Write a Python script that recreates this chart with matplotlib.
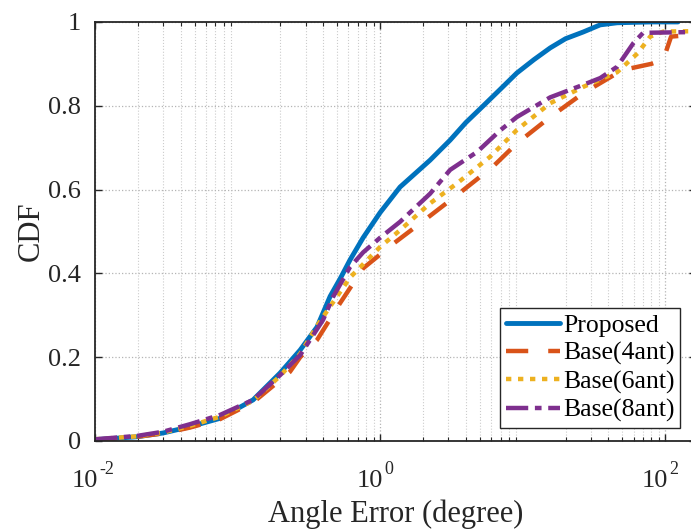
#CDF of angle error, proposed vs baseline

import matplotlib
matplotlib.use('Agg')
import matplotlib.pyplot as plt
import matplotlib.transforms as mtrans
import numpy as ny
from matplotlib.ticker import LogLocator, NullFormatter, FixedLocator

plt.rcParams['font.family'] = ['Liberation Serif', 'DejaVu Serif']

#values
x_prop = [0.01, 0.0197, 0.03, 0.0464, 0.0753, 0.1285, 0.1986, 0.275, 0.361, 0.446, 0.53, 0.615, 0.76, 1.0,
          1.38, 2.24, 3.1, 4.0, 5.3, 7.0, 9.1, 12, 15.6, 20, 26.6, 35, 46, 60, 80, 123]
y_prop = [0.003, 0.01, 0.019, 0.034, 0.054, 0.098, 0.162, 0.217, 0.272, 0.345, 0.39, 0.432, 0.485, 0.545,
          0.606, 0.67, 0.718, 0.76, 0.80, 0.84, 0.878, 0.91, 0.938, 0.96, 0.976, 0.993, 0.998, 0.999, 1.0, 1.0]

x_b4 = [0.01, 0.0197, 0.03, 0.0464, 0.0753, 0.1285, 0.1986, 0.233, 0.275, 0.361, 0.524, 0.76, 1.0, 1.23,
        2.14, 3.47, 6.2, 9.1, 15.6, 26.6, 50, 80, 97, 110, 165]
y_b4 = [0.003, 0.01, 0.018, 0.032, 0.052, 0.092, 0.145, 0.165, 0.2, 0.241, 0.329, 0.412, 0.445, 0.47,
        0.532, 0.587, 0.655, 0.71, 0.773, 0.83, 0.885, 0.9, 0.91, 0.965, 0.97]

x_b6 = [0.01, 0.0197, 0.03, 0.0464, 0.0753, 0.1285, 0.1986, 0.275, 0.361, 0.615, 1.0, 1.38, 2.24, 3.47,
        5.9, 9.1, 15.6, 26.6, 46, 64, 78.5, 97, 165]
y_b6 = [0.004, 0.011, 0.02, 0.036, 0.058, 0.096, 0.155, 0.208, 0.275, 0.39, 0.463, 0.503, 0.567, 0.615,
        0.678, 0.742, 0.806, 0.845, 0.88, 0.925, 0.965, 0.977, 0.978]

x_b8 = [0.01, 0.0197, 0.03, 0.0464, 0.0753, 0.1285, 0.1986, 0.275, 0.398, 0.468, 0.615, 0.76, 1.0, 1.38,
        2.24, 3.1, 4.8, 7.0, 9.1, 15.6, 26.6, 35, 46, 60, 70, 165]
y_b8 = [0.004, 0.012, 0.022, 0.04, 0.062, 0.098, 0.157, 0.205, 0.289, 0.344, 0.415, 0.45, 0.485, 0.523,
        0.59, 0.647, 0.69, 0.742, 0.773, 0.82, 0.85, 0.866, 0.893, 0.95, 0.974, 0.976]

labels = ['Proposed', 'Base(4ant)', 'Base(6ant)', 'Base(8ant)']
y_ticks = [0, 0.2, 0.4, 0.6, 0.8, 1]
y_ticklabels = ['0', '0.2', '0.4', '0.6', '0.8', '1']
x_ticks = [0.01, 1, 100]
x_exponents = ['-2', '0', '2']

fig = plt.figure(figsize=(6.91, 5.30), dpi=100)
ax = fig.add_axes([0.1375, 0.168, 0.87, 0.7906])

ax.plot(x_prop, y_prop, color='#0072BD', linewidth=3.5, label=labels[0], solid_capstyle='round')
ax.plot(x_b4, y_b4, color='#D95319', linewidth=3.2, dashes=(5, 4.5), label=labels[1])
ax.plot(x_b6, y_b6, color='#EDB120', linewidth=3.2, dashes=(1.2, 1.5), label=labels[2])
ax.plot(x_b8, y_b8, color='#7E2F8E', linewidth=3.2, dashes=(5, 1.5, 1.5, 1.5), label=labels[3])

ax.set_xscale('log')
ax.set_xlim(0.01, 165)
ax.set_ylim(0, 1)

#x tick labels drawn by hand: "10" plus a raised exponent, matlab style
ax.xaxis.set_major_locator(FixedLocator(x_ticks))
ax.set_xticklabels([])
ax.xaxis.set_minor_locator(LogLocator(base=10, subs=ny.arange(2, 10)))
ax.xaxis.set_minor_formatter(NullFormatter())
base_tr = ax.get_xaxis_transform()
tr_base = mtrans.offset_copy(base_tr, fig=fig, x=3, y=0, units='dots')
tr_exp = mtrans.offset_copy(base_tr, fig=fig, x=4, y=13, units='dots')
for xv, ex in zip(x_ticks, x_exponents):
    ax.text(xv, -0.11, '10', transform=tr_base, ha='right', va='baseline', fontsize=19, color='#262626')
    ax.text(xv, -0.11, ex, transform=tr_exp, ha='left', va='baseline', fontsize=13, color='#262626')
ax.set_yticks(y_ticks)
ax.set_yticklabels(y_ticklabels)

ax.grid(True, which='major', linestyle=':', color='#b4b4b4', linewidth=0.9)
ax.grid(True, which='minor', axis='x', linestyle=':', color='#cccccc', linewidth=0.8)

ax.tick_params(which='both', direction='in', top=True, right=True, colors='#262626', labelcolor='#262626')
ax.tick_params(which='major', length=5, width=1.0, labelsize=19)
ax.tick_params(which='minor', length=3, width=0.8)
ax.tick_params(axis='y', which='major', pad=10)
for s in ax.spines.values():
    s.set_color('#262626')
    s.set_linewidth(1.3)

ax.set_xlabel('Angle Error (degree)', fontsize=22, color='#262626', va='baseline')
ax.xaxis.set_label_coords(0.5, -0.193)
ax.set_ylabel('CDF', fontsize=22, color='#262626', labelpad=2)

leg = ax.legend(loc='lower right', bbox_to_anchor=(0.973, 0.031), borderaxespad=0, fontsize=18.5,
                handlelength=2.1, handletextpad=0.12, borderpad=0.22, labelspacing=0.2,
                fancybox=False, framealpha=1)
leg.get_frame().set_edgecolor('#262626')
leg.get_frame().set_linewidth(1.0)

fig.savefig('out.png', dpi=100)
